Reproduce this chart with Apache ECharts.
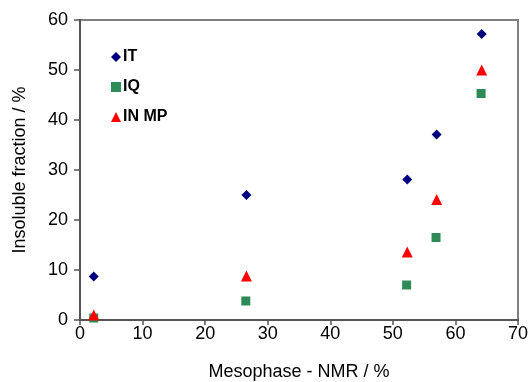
<!DOCTYPE html>
<html><head><meta charset="utf-8">
<script src="https://cdn.jsdelivr.net/npm/echarts@6/dist/echarts.min.js"></script>
<style>html,body{margin:0;padding:0;background:#fff}#c{width:531px;height:382px}</style>
</head><body><div id="c"></div>
<script>
const seriesNames = ['IT', 'IQ', 'IN MP'];
const itX = [2.2, 26.6, 52.3, 57.0, 64.2];
const itY = [8.7, 25.0, 28.1, 37.1, 57.2];
const iqX = [2.2, 26.5, 52.2, 56.9, 64.1];
const iqY = [0.4, 3.8, 7.0, 16.5, 45.3];
const inmpX = [2.2, 26.6, 52.3, 57.0, 64.2];
const inmpY = [1.0, 8.8, 13.6, 24.1, 50.0];
const xTicks = [0, 10, 20, 30, 40, 50, 60, 70];
const yTicks = [0, 10, 20, 30, 40, 50, 60];

const pair = (xs, ys) => xs.map((x, i) => [x, ys[i]]);
const font = 'Arial, "Liberation Sans", sans-serif';
const chart = echarts.init(document.getElementById('c'), null, {renderer: 'canvas'});
chart.setOption({
  animation: false,
  backgroundColor: '#fff',
  grid: {left: 80, top: 20, right: 13, bottom: 62, containLabel: false, outerBoundsMode: 'none', show: true, borderColor: '#7f7f7f', borderWidth: 2, backgroundColor: 'transparent'},
  legend: {
    orient: 'vertical', left: 106, top: 44, itemGap: 14, itemWidth: 10, itemHeight: 10,
    textStyle: {fontFamily: font, fontSize: 16, fontWeight: 'bold', color: '#000', padding: [0, 0, 0, -3]},
    data: [
      {name: seriesNames[0], icon: 'diamond'},
      {name: seriesNames[1], icon: 'rect'},
      {name: seriesNames[2], icon: 'triangle'}
    ]
  },
  xAxis: {
    type: 'value', min: xTicks[0], max: xTicks[xTicks.length - 1], interval: 10,
    name: 'Mesophase - NMR / %', nameLocation: 'middle', nameGap: 43,
    nameTextStyle: {fontFamily: font, fontSize: 18, color: '#000'},
    axisLine: {show: true, lineStyle: {color: '#555', width: 2}},
    axisTick: {show: true, length: 5, inside: false, lineStyle: {color: '#555', width: 1.5}},
    axisLabel: {fontFamily: font, fontSize: 18, color: '#000', margin: 5},
    splitLine: {show: false}
  },
  yAxis: {
    type: 'value', min: yTicks[0], max: yTicks[yTicks.length - 1], interval: 10,
    name: 'Insoluble fraction / %', nameLocation: 'middle', nameGap: 51,
    nameTextStyle: {fontFamily: font, fontSize: 18, color: '#000'},
    axisLine: {show: true, lineStyle: {color: '#555', width: 2}},
    axisTick: {show: true, length: 6, inside: false, lineStyle: {color: '#555', width: 1.5}},
    axisLabel: {fontFamily: font, fontSize: 18, color: '#000', margin: 12},
    splitLine: {show: false}
  },
  series: [
    {name: seriesNames[0], type: 'scatter', symbol: 'diamond', symbolSize: 10, itemStyle: {color: '#00007f', opacity: 1}, data: pair(itX, itY)},
    {name: seriesNames[1], type: 'scatter', symbol: 'rect', symbolSize: 9, itemStyle: {color: '#2e8b57', opacity: 1}, data: pair(iqX, iqY)},
    {name: seriesNames[2], type: 'scatter', symbol: 'triangle', symbolSize: 11, itemStyle: {color: '#ff0000', opacity: 1}, data: pair(inmpX, inmpY)}
  ]
});
</script></body></html>
